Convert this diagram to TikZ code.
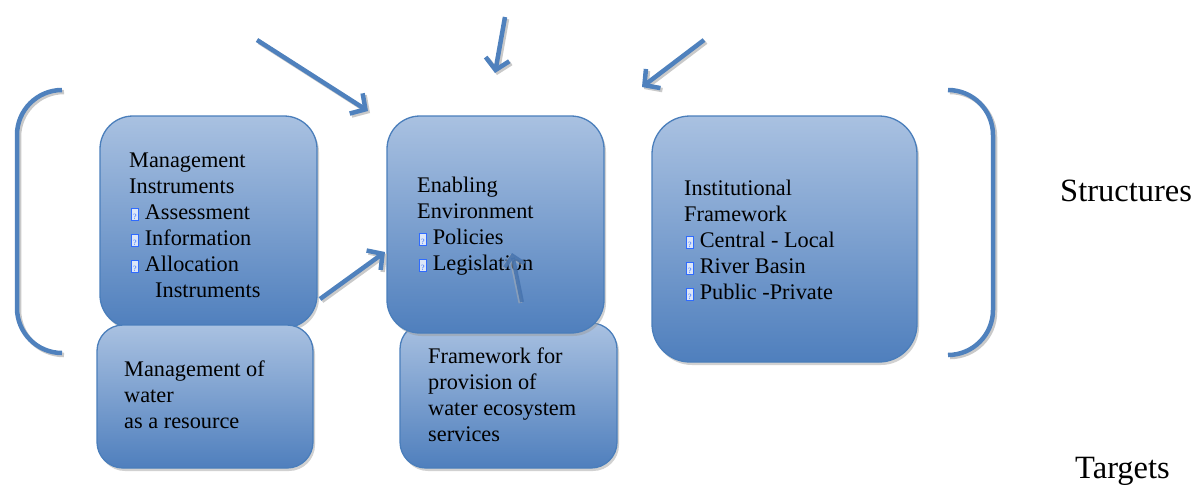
\documentclass[tikz,border=0pt]{standalone}
\usepackage{fontspec}
\setmainfont{Liberation Serif}
\usetikzlibrary{arrows.meta,shadows}
\definecolor{boxtop}{HTML}{A9C1E1}
\definecolor{boxbot}{HTML}{4F7FBD}
\definecolor{boxline}{HTML}{4A7EBB}
\definecolor{arr}{HTML}{4F81BD}
\definecolor{arrin}{HTML}{4673AE}
\definecolor{qblue}{HTML}{2F6BFF}
\definecolor{qfill}{HTML}{DCE6F8}
\newcommand\qbul{\hspace{1.5pt}{\setlength\fboxsep{0.4pt}\setlength\fboxrule{0.9pt}\fcolorbox{qblue}{qfill}{\makebox[6pt]{\rule{0pt}{10pt}\fontsize{8}{8}\selectfont\textcolor{qblue}{?}}}}\hspace{5.5pt}}
\begin{document}
\begin{tikzpicture}[x=1pt,y=-1pt,
  box/.style={draw=boxline, line width=1.3pt, rounded corners=33pt,
    top color=boxtop, bottom color=boxbot, inner sep=0pt,
    drop shadow={shadow xshift=2pt,shadow yshift=-3pt,fill=black!40,opacity=0.45}},
  smallbox/.style={box, rounded corners=26pt},
  txt/.style={anchor=base west, align=left, inner sep=0pt, text=black,
    font=\fontsize{22.3}{26}\selectfont},
  bigtxt/.style={anchor=base west, inner sep=0pt, text=black,
    font=\fontsize{32.5}{36}\selectfont},
  arrowsty/.style={draw=arr, line width=4.5pt,
    -{Straight Barb[length=11pt,width=24pt]}},
  arrowshad/.style={draw=black!30, line width=4.5pt, opacity=0.7,
    -{Straight Barb[length=11pt,width=24pt]}},
  brk/.style={draw=arr, line width=4.5pt, rounded corners=45pt},
  brkshad/.style={draw=black!30, line width=4.5pt, rounded corners=45pt, opacity=0.7}
]
\useasboundingbox (0,0) rectangle (1191,485);

% brackets
\draw[brkshad] (64,92) -- (19,92) -- (19,355) -- (64,355);
\draw[brk] (62,90) -- (17,90) -- (17,353) -- (62,353);
\draw[brkshad] (950,92) -- (995,92) -- (995,357) -- (950,357);
\draw[brk] (948,90) -- (993,90) -- (993,355) -- (948,355);

% boxes
\node[box, minimum width=217pt, minimum height=212pt] (mi) at (208.5,222) {};
\node[smallbox, minimum width=216pt, minimum height=143pt] (mw) at (205,396.5) {};
\node[smallbox, minimum width=217pt, minimum height=145pt] (fw) at (508.5,395.5) {};
\node[box, minimum width=217pt, minimum height=217pt] (ee) at (495.5,224.5) {};
\node[box, rounded corners=38pt, minimum width=265pt, minimum height=246pt] (if) at (784.5,239) {};

% texts (anchor = baseline of the last line)
\node[txt] (mit) at (129,297) {Management\\Instruments\\\qbul Assessment\\\qbul Information\\\qbul Allocation\\\hspace{26pt}Instruments};
\node[txt] (mwt) at (124,428) {Management of\\water\\as a resource};
\node[txt] (eet) at (417,270) {Enabling\\Environment\\\qbul Policies\\\qbul Legislation};
\node[txt] (fwt) at (428,441) {Framework for\\provision of\\water ecosystem\\services};
\node[txt] (ift) at (684,299) {Institutional\\Framework\\\qbul Central - Local\\\qbul River Basin\\\qbul Public -Private};
\node[bigtxt] (str) at (1060,201) {Structures};
\node[bigtxt] (tar) at (1075,478) {Targets};

% arrows
\coordinate (a1s) at (257,40);  \coordinate (a1e) at (368,111);
\coordinate (a2s) at (505,17);  \coordinate (a2e) at (495,73);
\coordinate (a3s) at (704,40);  \coordinate (a3e) at (642,87);
\coordinate (a4s) at (320,299); \coordinate (a4e) at (385,252);
\coordinate (a5s) at (522,302); \coordinate (a5e) at (512,253);
\foreach \s/\e in {a1s/a1e,a2s/a2e,a3s/a3e,a4s/a4e}{
  \draw[arrowshad] ([xshift=2pt,yshift=-2pt]\s) -- ([xshift=2pt,yshift=-2pt]\e);
  \draw[arrowsty] (\s) -- (\e);
}
\draw[arrowshad, line width=4pt, opacity=0.5,
  -{Straight Barb[length=10pt,width=20pt]}] ([xshift=-1.5pt,yshift=-1pt]a5s) -- ([xshift=-1.5pt,yshift=-1pt]a5e);
\draw[draw=arrin, line width=4pt, opacity=0.85,
  -{Straight Barb[length=10pt,width=20pt]}] (a5s) -- (a5e);
\end{tikzpicture}
\end{document}
